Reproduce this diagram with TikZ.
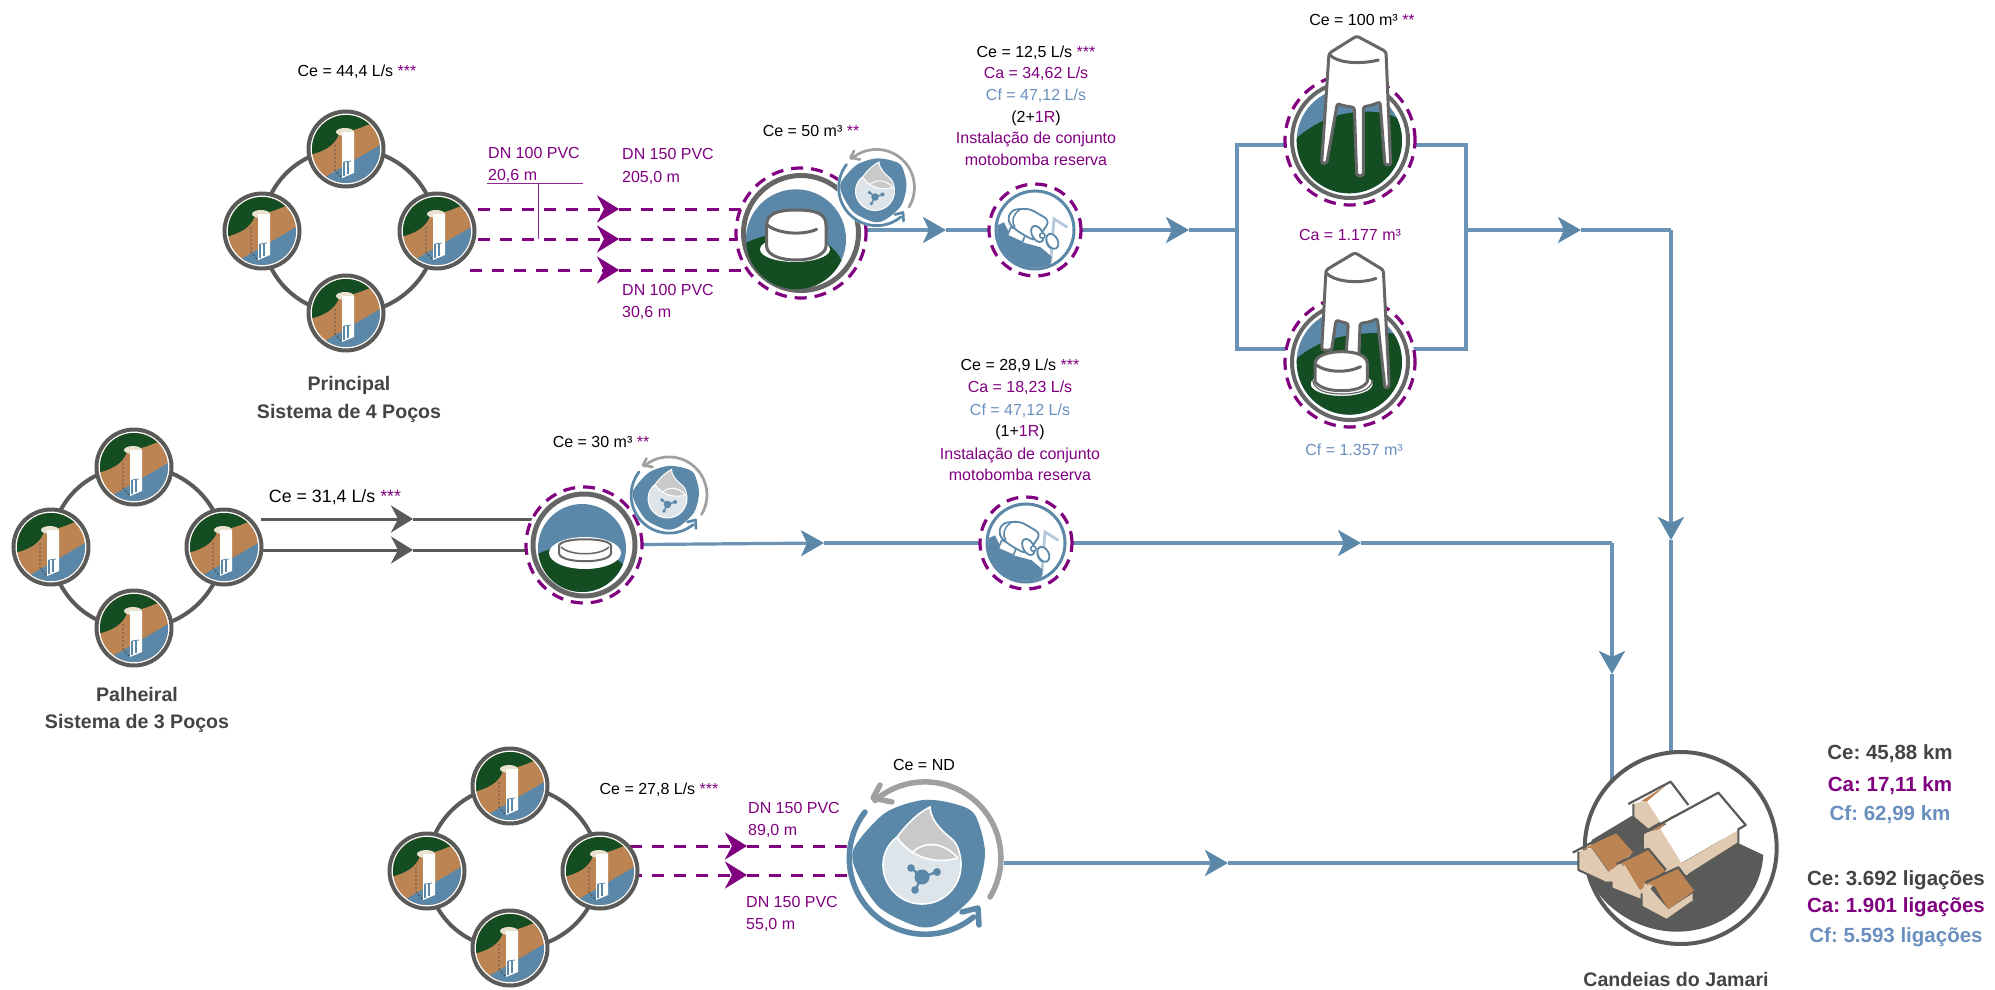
\documentclass[tikz,border=0pt]{standalone}
\usepackage{fontspec}
\setmainfont{Liberation Sans}
\usetikzlibrary{arrows.meta,backgrounds}
\definecolor{pur}{HTML}{800080}
\definecolor{wblue}{HTML}{5B88A8}
\definecolor{lineblue}{HTML}{6A93B6}
\definecolor{cftext}{HTML}{6A8FBE}
\definecolor{forest}{HTML}{154D22}
\definecolor{soil}{HTML}{BC8453}
\definecolor{ringgray}{HTML}{5A5A58}
\definecolor{towergray}{HTML}{666666}
\definecolor{beige}{HTML}{E0CBB2}
\definecolor{pale}{HTML}{DDE4EA}
\definecolor{palegray}{HTML}{C9C9C9}
\definecolor{arcgray}{HTML}{A0A0A0}
\definecolor{cream}{HTML}{E8E2CF}
\definecolor{dk}{HTML}{444444}
\frenchspacing
\tikzset{
 txt/.style={anchor=base,yshift=-5.5pt,inner sep=0pt,font=\fontsize{16}{19}\selectfont,text=black},
 ptxt/.style={txt,text=pur},
 btxt/.style={txt,text=cftext},
 ltxt/.style={ptxt,anchor=base west},
 head/.style={anchor=base,yshift=-6.5pt,inner sep=0pt,font=\fontsize{19.6}{23}\selectfont\bfseries,text=dk},
 sumt/.style={anchor=base,yshift=-7pt,inner sep=0pt,font=\fontsize{20.5}{24}\selectfont\bfseries},
 wellring/.style={circle,draw=ringgray,line width=4pt,fill=white,inner sep=0pt,minimum size=75pt},
 dashring/.style={circle,draw=pur,line width=3.2pt,dash pattern=on 12pt off 8pt,fill=white,inner sep=0pt},
 grayring/.style={circle,draw=towergray,line width=5pt,fill=white,inner sep=0pt},
 pumpring/.style={circle,draw=wblue,line width=3pt,fill=white,inner sep=0pt,minimum size=78pt},
 ringline/.style={line width=4pt,draw=ringgray},
 bigtip/.style={-{Stealth[length=22pt,width=27pt,inset=7pt]}},
 flowtip/.style={-{Stealth[length=23pt,width=26pt,inset=6pt,color=wblue]}},
 dashpipe/.style={line width=3pt,draw=pur,dash pattern=on 12pt off 10pt},
 solidpipe/.style={line width=3pt,draw=ringgray},
 flowb/.style={line width=3.2pt,draw=lineblue},
 thin pur/.style={line width=1pt,draw=pur!85},
 tankline/.style={draw=towergray,line width=3pt,line join=round,line cap=round},
 well/.pic={
  \begin{scope}
   \clip (0,0) circle[radius=34];
   \fill[soil] (-36,-36) rectangle (36,36);
   \fill[forest] (-36,-36) -- (36,-36) -- (36,-28) -- (21,-24) .. controls (8,-18) and (0,-18) .. (-7,-15)
     .. controls (-10,-8) and (-14,0) .. (-36,6) -- cycle;
   \fill[wblue] (-26,31) -- (36,-5) -- (36,36) -- (-26,36) -- cycle;
  \end{scope}
  \draw[dk,line width=.8pt,dash pattern=on 2pt off 2pt] (-11,-4) -- (-11,21) -- (-5,28);
  \fill[cream] (-1,-17) ellipse[x radius=9,y radius=4];
  \fill[white!96!cream] (-4,-17) -- (8,-17) -- (8,24) -- (-4,29) -- cycle;
  \fill[white] (-3,13) rectangle (7,24);
  \draw[wblue,line width=1.3pt] (-2,13) -- (-2,27);
  \draw[wblue,line width=1.3pt] (2,12.5) -- (2,25);
  \draw[wblue,line width=.8pt] (-2,13) -- (5,12);
 },
 pumpicon/.pic={
  \begin{scope}[shift={(-66,-62.7)},scale=1/3]
   \begin{scope}
    \clip (198,188) circle[radius=113];
    \draw[lineblue!50,line width=2.8pt] (245,285) -- (255,155) -- (295,180);
    \fill[wblue] (60,185) -- (105,165) -- (125,205) -- (160,225) -- (215,240) -- (248,268) -- (240,320) -- (60,320) -- cycle;
   \end{scope}
   \draw[wblue,fill=white,line width=1.6pt,line join=round] (125,180) -- (115,205) -- (160,225) -- (172,195) -- cycle;
   \draw[wblue,fill=white,line width=1.8pt,rounded corners=6pt] (125,128) -- (180,123) -- (243,160) -- (200,222) -- (150,195) -- (115,165) -- cycle;
   \draw[wblue,line width=1.5pt] (152,128) .. controls (132,140) and (125,165) .. (138,180);
   \draw[wblue,fill=white,line width=1.8pt,rotate around={28:(205,200)}] (205,200) ellipse[x radius=16,y radius=26];
   \draw[wblue,fill=white,line width=1.5pt] (220,205) circle[radius=8];
   \draw[wblue,fill=white,line width=1.8pt,rotate around={28:(250,222)}] (250,222) ellipse[x radius=16,y radius=24];
   \draw[wblue,line width=1.3pt] (232,215) .. controls (230,228) and (238,240) .. (246,244);
  \end{scope}
 }
}
\newcommand{\WellAt}[3]{\node[wellring] (#1) at (#2,#3) {}; \pic at (#1) {well};}
\newcommand{\DropBadge}[4]{%
 \node[circle,fill=white,inner sep=0pt,minimum size={158pt*#4}] (#1) at (#2,#3) {};
 \pgfmathsetlengthmacro{\dlw}{max(5.5*#4,2.6)}
 \pgfmathsetlengthmacro{\dwl}{max(1.6*#4,1)}
 \begin{scope}[shift={(#2,#3)},scale=#4]
  \fill[wblue] plot[smooth cycle] coordinates {(-71,-10) (-40,-45) (-2,-58) (30,-54) (50,-43) (60,-5) (50,35) (20,63) (-5,69) (-45,50) (-68,15)};
  \draw[arcgray,line width=\dlw,line cap=round,line join=round] (65,39) arc[start angle=31,end angle=-131,radius=76] ;
  \draw[arcgray,line width=\dlw,line cap=round,line join=round] (-45,-73) -- (-52,-60) -- (-33,-56);
  \draw[wblue,line width=\dlw,line cap=round,line join=round] (-60,-46) arc[start angle=217.5,end angle=50.6,radius=76];
  \draw[wblue,line width=\dlw,line cap=round,line join=round] (37,54) -- (53,50) -- (54,67);
  \fill[palegray] (5,-51) .. controls (6,-35) and (20,-25) .. (28,-18) .. controls (34,-12) and (36,0) .. (36,7)
   .. controls (36,28) and (19,46) .. (-3,46) .. controls (-25,46) and (-42,28) .. (-42,7)
   .. controls (-42,-5) and (-36,-15) .. (-28,-21) .. controls (-15,-38) and (-5,-46) .. (5,-51) -- cycle;
  \fill[pale] (-28,-21) .. controls (-18,-5) and (5,8) .. (33,0) .. controls (35,3) and (36,5) .. (36,7)
   .. controls (36,28) and (19,46) .. (-3,46) .. controls (-25,46) and (-42,28) .. (-42,7)
   .. controls (-42,-5) and (-36,-15) .. (-28,-21) -- cycle;
  \draw[white,line width=\dwl] (5,-51) .. controls (6,-35) and (20,-25) .. (28,-18) .. controls (34,-12) and (36,0) .. (36,7)
   .. controls (36,28) and (19,46) .. (-3,46) .. controls (-25,46) and (-42,28) .. (-42,7)
   .. controls (-42,-5) and (-36,-15) .. (-28,-21) .. controls (-15,-38) and (-5,-46) .. (5,-51) -- cycle;
  \draw[white,line width=\dwl] (-28,-21) .. controls (-18,-5) and (5,8) .. (33,0);
  \draw[white,line width=\dwl] (-13,-5) .. controls (-6,-14) and (15,-20) .. (33,0);
  \draw[wblue,line width=\dwl*1.4] (-14,10) -- (-3,19) -- (12,14) (-3,19) -- (-10,32);
  \fill[wblue] (-3,19) circle[radius=7.5] (-14,10) circle[radius=3.8] (12,14) circle[radius=4] (-10,32) circle[radius=3.8];
 \end{scope}
}
\begin{document}
\begin{tikzpicture}[x=1pt,y=-1pt]
\useasboundingbox (0,0) rectangle (1995,990);

% ---------- Principal wells
\WellAt{pa}{346}{149}
\WellAt{pb}{262}{231}
\WellAt{pc}{437}{231}
\WellAt{pd}{346}{313}
% ---------- Palheiral wells
\WellAt{qa}{134}{467}
\WellAt{qb}{51}{547}
\WellAt{qc}{224}{547}
\WellAt{qd}{134}{628}
% ---------- third group
\WellAt{ra}{510}{786}
\WellAt{rb}{427}{871}
\WellAt{rc}{600}{871}
\WellAt{rd}{510}{948}

% ---------- Tank 50 m3
\node[dashring,minimum size=130pt] (tankAd) at (801,233) {};
\node[grayring,minimum size=115pt] (tankA) at (801,233) {};
\begin{scope}[shift={(720,130)},scale=1/3]
 \begin{scope}
  \clip (228,328) circle[radius=150];
  \fill[wblue] (70,170) rectangle (390,490);
  \fill[forest] (70,342) .. controls (110,322) and (180,300) .. (240,310) .. controls (310,320) and (350,360) .. (365,392) -- (390,490) -- (70,490) -- cycle;
 \end{scope}
 \fill[white] (225,358) ellipse[x radius=105,y radius=38];
 \draw[tankline,fill=white] (140,285) .. controls (140,250) and (175,240) .. (228,240) .. controls (285,240) and (318,250) .. (318,285)
   -- (318,350) .. controls (315,375) and (275,390) .. (228,390) .. controls (180,390) and (142,375) .. (140,350) -- cycle;
 \draw[tankline] (142,285) .. controls (170,310) and (245,318) .. (290,298);
\end{scope}
\DropBadge{dropA}{876.5}{187.5}{0.5}

% ---------- Pump top
\node[dashring,minimum size=92pt] (pumpAd) at (1035,230) {};
\node[pumpring] (pumpA) at (1035,230) {};
\pic at (pumpA) {pumpicon};

% ---------- Towers
\node[dashring,minimum size=130pt] (towAd) at (1350,140) {};
\node[grayring,minimum size=116pt,line width=4pt] (towA) at (1350,140) {};
\begin{scope}[shift={(1260,10)},scale=1/3]
 \begin{scope}
  \clip (268,392) circle[radius=158];
  \fill[wblue] (100,230) rectangle (430,560);
  \fill[forest] (100,392) .. controls (170,330) and (240,305) .. (320,305) .. controls (370,305) and (400,315) .. (430,335) -- (430,560) -- (100,560) -- cycle;
 \end{scope}
 \draw[tankline,fill=white,rounded corners=2.5pt] (290,78) -- (378,125) -- (392,465) -- (375,465) -- (360,275) .. controls (340,285) and (325,288) .. (310,290)
  -- (310,497) -- (290,497) -- (283,292) .. controls (265,290) and (245,286) .. (232,280) -- (200,460) -- (185,460) -- (207,130) -- cycle;
 \draw[tankline] (210,135) .. controls (240,165) and (320,160) .. (355,150);
\end{scope}

\node[dashring,minimum size=130pt] (towBd) at (1350,362) {};
\node[grayring,minimum size=116pt,line width=4pt] (towB) at (1350,362) {};
\begin{scope}[shift={(1260,240)},scale=1/3]
 \begin{scope}
  \clip (268,366) circle[radius=158];
  \fill[wblue] (100,200) rectangle (430,530);
  \fill[forest] (100,364) .. controls (160,310) and (230,285) .. (320,280) .. controls (360,278) and (400,275) .. (430,290) -- (430,530) -- (100,530) -- cycle;
 \end{scope}
 \draw[tankline,fill=white,rounded corners=2.5pt] (285,38) -- (370,90) -- (388,440) -- (375,445) -- (352,235) .. controls (335,245) and (315,248) .. (300,250)
  -- (297,345) -- (258,345) -- (265,250) .. controls (250,248) and (240,244) .. (228,240) -- (215,330) -- (185,330) -- (198,90) -- cycle;
 \draw[tankline] (200,100) .. controls (230,130) and (310,130) .. (348,115);
 \draw[white,fill=white] (245,432) ellipse[x radius=92,y radius=35];
 \draw[towergray,line width=1.2pt] (158,420) .. controls (160,450) and (200,462) .. (245,462) .. controls (295,462) and (335,450) .. (337,420);
 \draw[tankline,fill=white] (165,372) .. controls (165,345) and (210,335) .. (245,335) .. controls (285,335) and (322,345) .. (322,372)
  -- (322,425) .. controls (310,445) and (280,452) .. (245,452) .. controls (210,452) and (180,445) .. (165,425) -- cycle;
 \draw[tankline] (168,375) .. controls (205,400) and (265,398) .. (302,380);
\end{scope}

% ---------- Palheiral tank
\node[dashring,minimum size=116pt] (tankBd) at (584,545) {};
\node[grayring,minimum size=102pt] (tankB) at (584,545) {};
\begin{scope}
 \clip (582,548) circle[radius=44];
 \fill[wblue] (530,495) rectangle (640,600);
 \fill[forest] (530,558) .. controls (560,540) and (600,540) .. (632,572) -- (632,600) -- (530,600) -- cycle;
 \fill[white] (585,553) ellipse[x radius=36,y radius=16];
\end{scope}
\draw[towergray,line width=2pt,fill=white!94!cream] (559,546) .. controls (559,537) and (611,537) .. (611,546) -- (611,553) .. controls (611,564) and (559,564) .. (559,553) -- cycle;
\draw[towergray,line width=1.5pt] (561,547) .. controls (570,556) and (600,556) .. (609,547);
\DropBadge{dropB}{669}{495}{0.5}

% ---------- Pump middle
\node[dashring,minimum size=92pt] (pumpBd) at (1026,543) {};
\node[pumpring] (pumpB) at (1026,543) {};
\pic at (pumpB) {pumpicon};

% ---------- Bottom treatment
\DropBadge{dropC}{925}{858}{1}

% ---------- Candeias
\node[circle,draw=ringgray,line width=4pt,fill=white,inner sep=0pt,minimum size=192pt] (city) at (1680.7,848) {};
\begin{scope}[shift={(1560,730)},scale=1/3]
 \fill[ringgray] (95,330) -- (215,258) -- (400,300) -- (540,342) -- (610,375) .. controls (600,520) and (480,605) .. (350,605)
   .. controls (240,605) and (130,540) .. (85,440) -- cycle;
 % back house
 \fill[white] (258,215) -- (332,155) -- (385,225) -- (300,275) -- cycle;
 \fill[beige] (220,222) -- (258,210) -- (300,275) -- (262,297) -- (220,262) -- cycle;
 \fill[soil] (245,212) -- (318,166) -- (260,215) -- cycle;
 \draw[ringgray,line width=2.2pt,line join=round] (205,222) -- (332,155) -- (385,225);
 \draw[ringgray,line width=2pt] (220,222) -- (220,262) -- (262,297);
 % big house
 \fill[white] (290,300) -- (475,190) -- (555,288) -- (362,400) -- cycle;
 \fill[beige] (250,310) -- (300,295) -- (365,400) -- (535,300) -- (535,340) -- (385,435) -- (320,430) -- (250,350) -- cycle;
 \fill[soil] (265,305) -- (445,205) -- (330,262) -- (300,297) -- cycle;
 \draw[ringgray,line width=2.2pt,line join=round] (250,310) -- (475,188) -- (557,285) -- (535,298) -- (535,340) -- (385,435);
 \draw[ringgray,line width=2pt] (250,310) -- (250,350);
 % front house 1
 \fill[beige] (55,365) -- (95,355) -- (145,425) -- (215,370) -- (150,455) -- (135,455) -- (55,420) -- cycle;
 \fill[soil] (62,360) -- (170,308) -- (222,365) -- (148,425) -- (95,353) -- cycle;
 \draw[ringgray,line width=2.2pt,line join=round] (38,368) -- (110,330) -- (170,306) -- (222,365);
 \draw[ringgray,line width=2pt] (55,365) -- (55,420) -- (135,457);
 % front house 2
 \fill[beige] (150,420) -- (195,405) -- (240,480) -- (300,440) -- (245,510) -- (155,475) -- cycle;
 \fill[soil] (172,400) -- (265,358) -- (318,420) -- (240,480) -- (195,405) -- cycle;
 \draw[ringgray,line width=2.2pt,line join=round] (170,402) -- (265,356) -- (318,420);
 \draw[ringgray,line width=2pt] (155,455) -- (155,475) -- (243,510);
 % front house 3
 \fill[beige] (245,490) -- (255,458) -- (325,538) -- (398,490) -- (398,515) -- (320,570) -- (245,530) -- cycle;
 \fill[soil] (258,458) -- (355,412) -- (405,480) -- (325,538) -- (285,470) -- cycle;
 \draw[ringgray,line width=2.2pt,line join=round] (255,458) -- (355,412) -- (405,480);
 \draw[ringgray,line width=2pt] (245,490) -- (245,530) -- (320,570) -- (398,515);
\end{scope}

% ---------- free coordinates of the connectors
\coordinate (pa1) at (478,209); \coordinate (pa2) at (619,209);
\coordinate (pb1) at (478,239); \coordinate (pb2) at (619,239);
\coordinate (pc1) at (470,270); \coordinate (pc2) at (619,270);
\coordinate (qa1) at (261,519); \coordinate (qa2) at (413,519);
\coordinate (qb1) at (261,550); \coordinate (qb2) at (413,550);
\coordinate (ra1) at (630,846); \coordinate (ra2) at (747,846);
\coordinate (rb1) at (630,875); \coordinate (rb2) at (747,875);
\coordinate (tipA) at (946,230);
\coordinate (tipB) at (1189,230);
\coordinate (junL) at (1237,230);
\coordinate (boxLT) at (1237,145); \coordinate (boxRT) at (1466,145);
\coordinate (boxLB) at (1237,349); \coordinate (boxRB) at (1466,349);
\coordinate (junR) at (1466,230);
\coordinate (tipC) at (1581,230);
\coordinate (cornerA) at (1671,230);
\coordinate (tipD) at (1671,540);
\coordinate (tipE) at (824,543);
\coordinate (tipF) at (1361,543);
\coordinate (cornerB) at (1612,543);
\coordinate (tipG) at (1612,674);
\coordinate (tipH) at (1228,863);
\coordinate (diaTop) at (487,183); \coordinate (diaEnd) at (583,183);
\coordinate (diaTee) at (538,183); \coordinate (diaFoot) at (538,239);

\begin{scope}[on background layer]
 \draw[ringline] (pb.center) to[bend left=45] (pa.center);
 \draw[ringline] (pa.center) to[bend left=45] (pc.center);
 \draw[ringline] (pc.center) to[bend left=45] (pd.center);
 \draw[ringline] (pd.center) to[bend left=45] (pb.center);
 \draw[ringline] (qb.center) to[bend left=45] (qa.center);
 \draw[ringline] (qa.center) to[bend left=45] (qc.center);
 \draw[ringline] (qc.center) to[bend left=45] (qd.center);
 \draw[ringline] (qd.center) to[bend left=45] (qb.center);
 \draw[ringline] (rb.center) to[bend left=45] (ra.center);
 \draw[ringline] (ra.center) to[bend left=45] (rc.center);
 \draw[ringline] (rc.center) to[bend left=45] (rd.center);
 \draw[ringline] (rd.center) to[bend left=45] (rb.center);

 \draw[dashpipe,bigtip,pur] (pa1) -- (pa2);
 \draw[dashpipe] (pa2) -- (tankAd.center |- pa2);
 \draw[dashpipe,bigtip,pur] (pb1) -- (pb2);
 \draw[dashpipe] (pb2) -- (tankAd.center |- pb2);
 \draw[dashpipe,bigtip,pur] (pc1) -- (pc2);
 \draw[dashpipe] (pc2) -- (tankAd.center |- pc2);
 \draw[thin pur] (diaTop) -- (diaEnd);
 \draw[thin pur] (diaTee) -- (diaFoot);

 \draw[solidpipe,bigtip,ringgray] (qa1) -- (qa2);
 \draw[solidpipe] (qa2) -- (tankBd.center |- qa2);
 \draw[solidpipe,bigtip,ringgray] (qb1) -- (qb2);
 \draw[solidpipe] (qb2) -- (tankBd.center |- qb2);

 \draw[dashpipe,bigtip,pur] (ra1) -- (ra2);
 \draw[dashpipe] (ra2) -- (dropC.center |- ra2);
 \draw[dashpipe,bigtip,pur] (rb1) -- (rb2);
 \draw[dashpipe] (rb2) -- (dropC.center |- rb2);

 \draw[flowb,flowtip] (tankA.center |- tipA) -- (tipA);
 \draw[flowb] (tipA) -- (pumpAd.center);
 \draw[flowb,flowtip] (pumpAd.center) -- (tipB);
 \draw[flowb] (tipB) -- (junL);
 \draw[flowb] (boxLT) -- (boxRT) -- (boxRB) -- (boxLB) -- cycle;
 \draw[flowb,flowtip] (junR) -- (tipC);
 \draw[flowb] (tipC) -- (cornerA);
 \draw[flowb,flowtip] (cornerA) -- (tipD);
 \draw[flowb] (tipD) -- (city.center -| tipD);

 \draw[flowb,flowtip] (tankBd.center) -- (tipE);
 \draw[flowb] (tipE) -- (pumpBd.center);
 \draw[flowb,flowtip] (pumpBd.center) -- (tipF);
 \draw[flowb] (tipF) -- (cornerB);
 \draw[flowb,flowtip] (cornerB) -- (tipG);
 \draw[flowb] (tipG) -- (city.center -| tipG);

 \draw[flowb,flowtip] (dropC.center |- tipH) -- (tipH);
 \draw[flowb] (tipH) -- (city.center |- tipH);
\end{scope}

% ---------- texts
\node[txt] (t01) at (357,71) {Ce = 44,4 L/s \textcolor{pur}{***}};
\node[ltxt] (t02) at (488,153) {DN 100 PVC};
\node[ltxt] (t03) at (488,175) {20,6 m};
\node[ltxt] (t04) at (622,154) {DN 150 PVC};
\node[ltxt] (t05) at (622,177) {205,0 m};
\node[ltxt] (t06) at (622,290) {DN 100 PVC};
\node[ltxt] (t07) at (622,312) {30,6 m};
\node[txt] (t08) at (811,131) {Ce = 50 m³ \textcolor{pur}{**}};
\node[txt] (t09) at (1036,52) {Ce = 12,5 L/s \textcolor{pur}{***}};
\node[ptxt] (t10) at (1036,73) {Ca = 34,62 L/s};
\node[btxt] (t11) at (1036,95) {Cf = 47,12 L/s};
\node[txt] (t12) at (1036,117) {(2+\textcolor{pur}{1R})};
\node[ptxt] (t13) at (1036,138) {Instalação de conjunto};
\node[ptxt] (t14) at (1036,160) {motobomba reserva};
\node[txt] (t15) at (1362,20) {Ce = 100 m³ \textcolor{pur}{**}};
\node[ptxt] (t16) at (1350,235) {Ca = 1.177 m³};
\node[btxt] (t17) at (1354,450) {Cf = 1.357 m³};
\node[txt] (t18) at (1020,365) {Ce = 28,9 L/s \textcolor{pur}{***}};
\node[ptxt] (t19) at (1020,387) {Ca = 18,23 L/s};
\node[btxt] (t20) at (1020,410) {Cf = 47,12 L/s};
\node[txt] (t21) at (1020,431) {(1+\textcolor{pur}{1R})};
\node[ptxt] (t22) at (1020,454) {Instalação de conjunto};
\node[ptxt] (t23) at (1020,475) {motobomba reserva};
\node[txt,font=\fontsize{17.8}{20}\selectfont] (t24) at (335,497) {Ce = 31,4 L/s \textcolor{pur}{***}};
\node[txt] (t25) at (601,442) {Ce = 30 m³ \textcolor{pur}{**}};
\node[head] (t26) at (349,384) {Principal};
\node[head] (t27) at (349,412) {Sistema de 4 Poços};
\node[head] (t28) at (137,695) {Palheiral};
\node[head] (t29) at (137,722) {Sistema de 3 Poços};
\node[txt] (t30) at (659,789) {Ce = 27,8 L/s \textcolor{pur}{***}};
\node[ltxt] (t31) at (748,808) {DN 150 PVC};
\node[ltxt] (t32) at (748,830) {89,0 m};
\node[ltxt] (t33) at (746,902) {DN 150 PVC};
\node[ltxt] (t34) at (746,924) {55,0 m};
\node[txt] (t35) at (924,765) {Ce = ND};
\node[head] (t36) at (1676,980) {Candeias do Jamari};
\node[sumt,text=dk] (t37) at (1890,752) {Ce: 45,88 km};
\node[sumt,text=pur] (t38) at (1890,784) {Ca: 17,11 km};
\node[sumt,text=cftext] (t39) at (1890,813) {Cf: 62,99 km};
\node[sumt,text=dk] (t40) at (1896,878) {Ce: 3.692 ligações};
\node[sumt,text=pur] (t41) at (1896,905) {Ca: 1.901 ligações};
\node[sumt,text=cftext] (t42) at (1896,935) {Cf: 5.593 ligações};
\end{tikzpicture}
\end{document}
